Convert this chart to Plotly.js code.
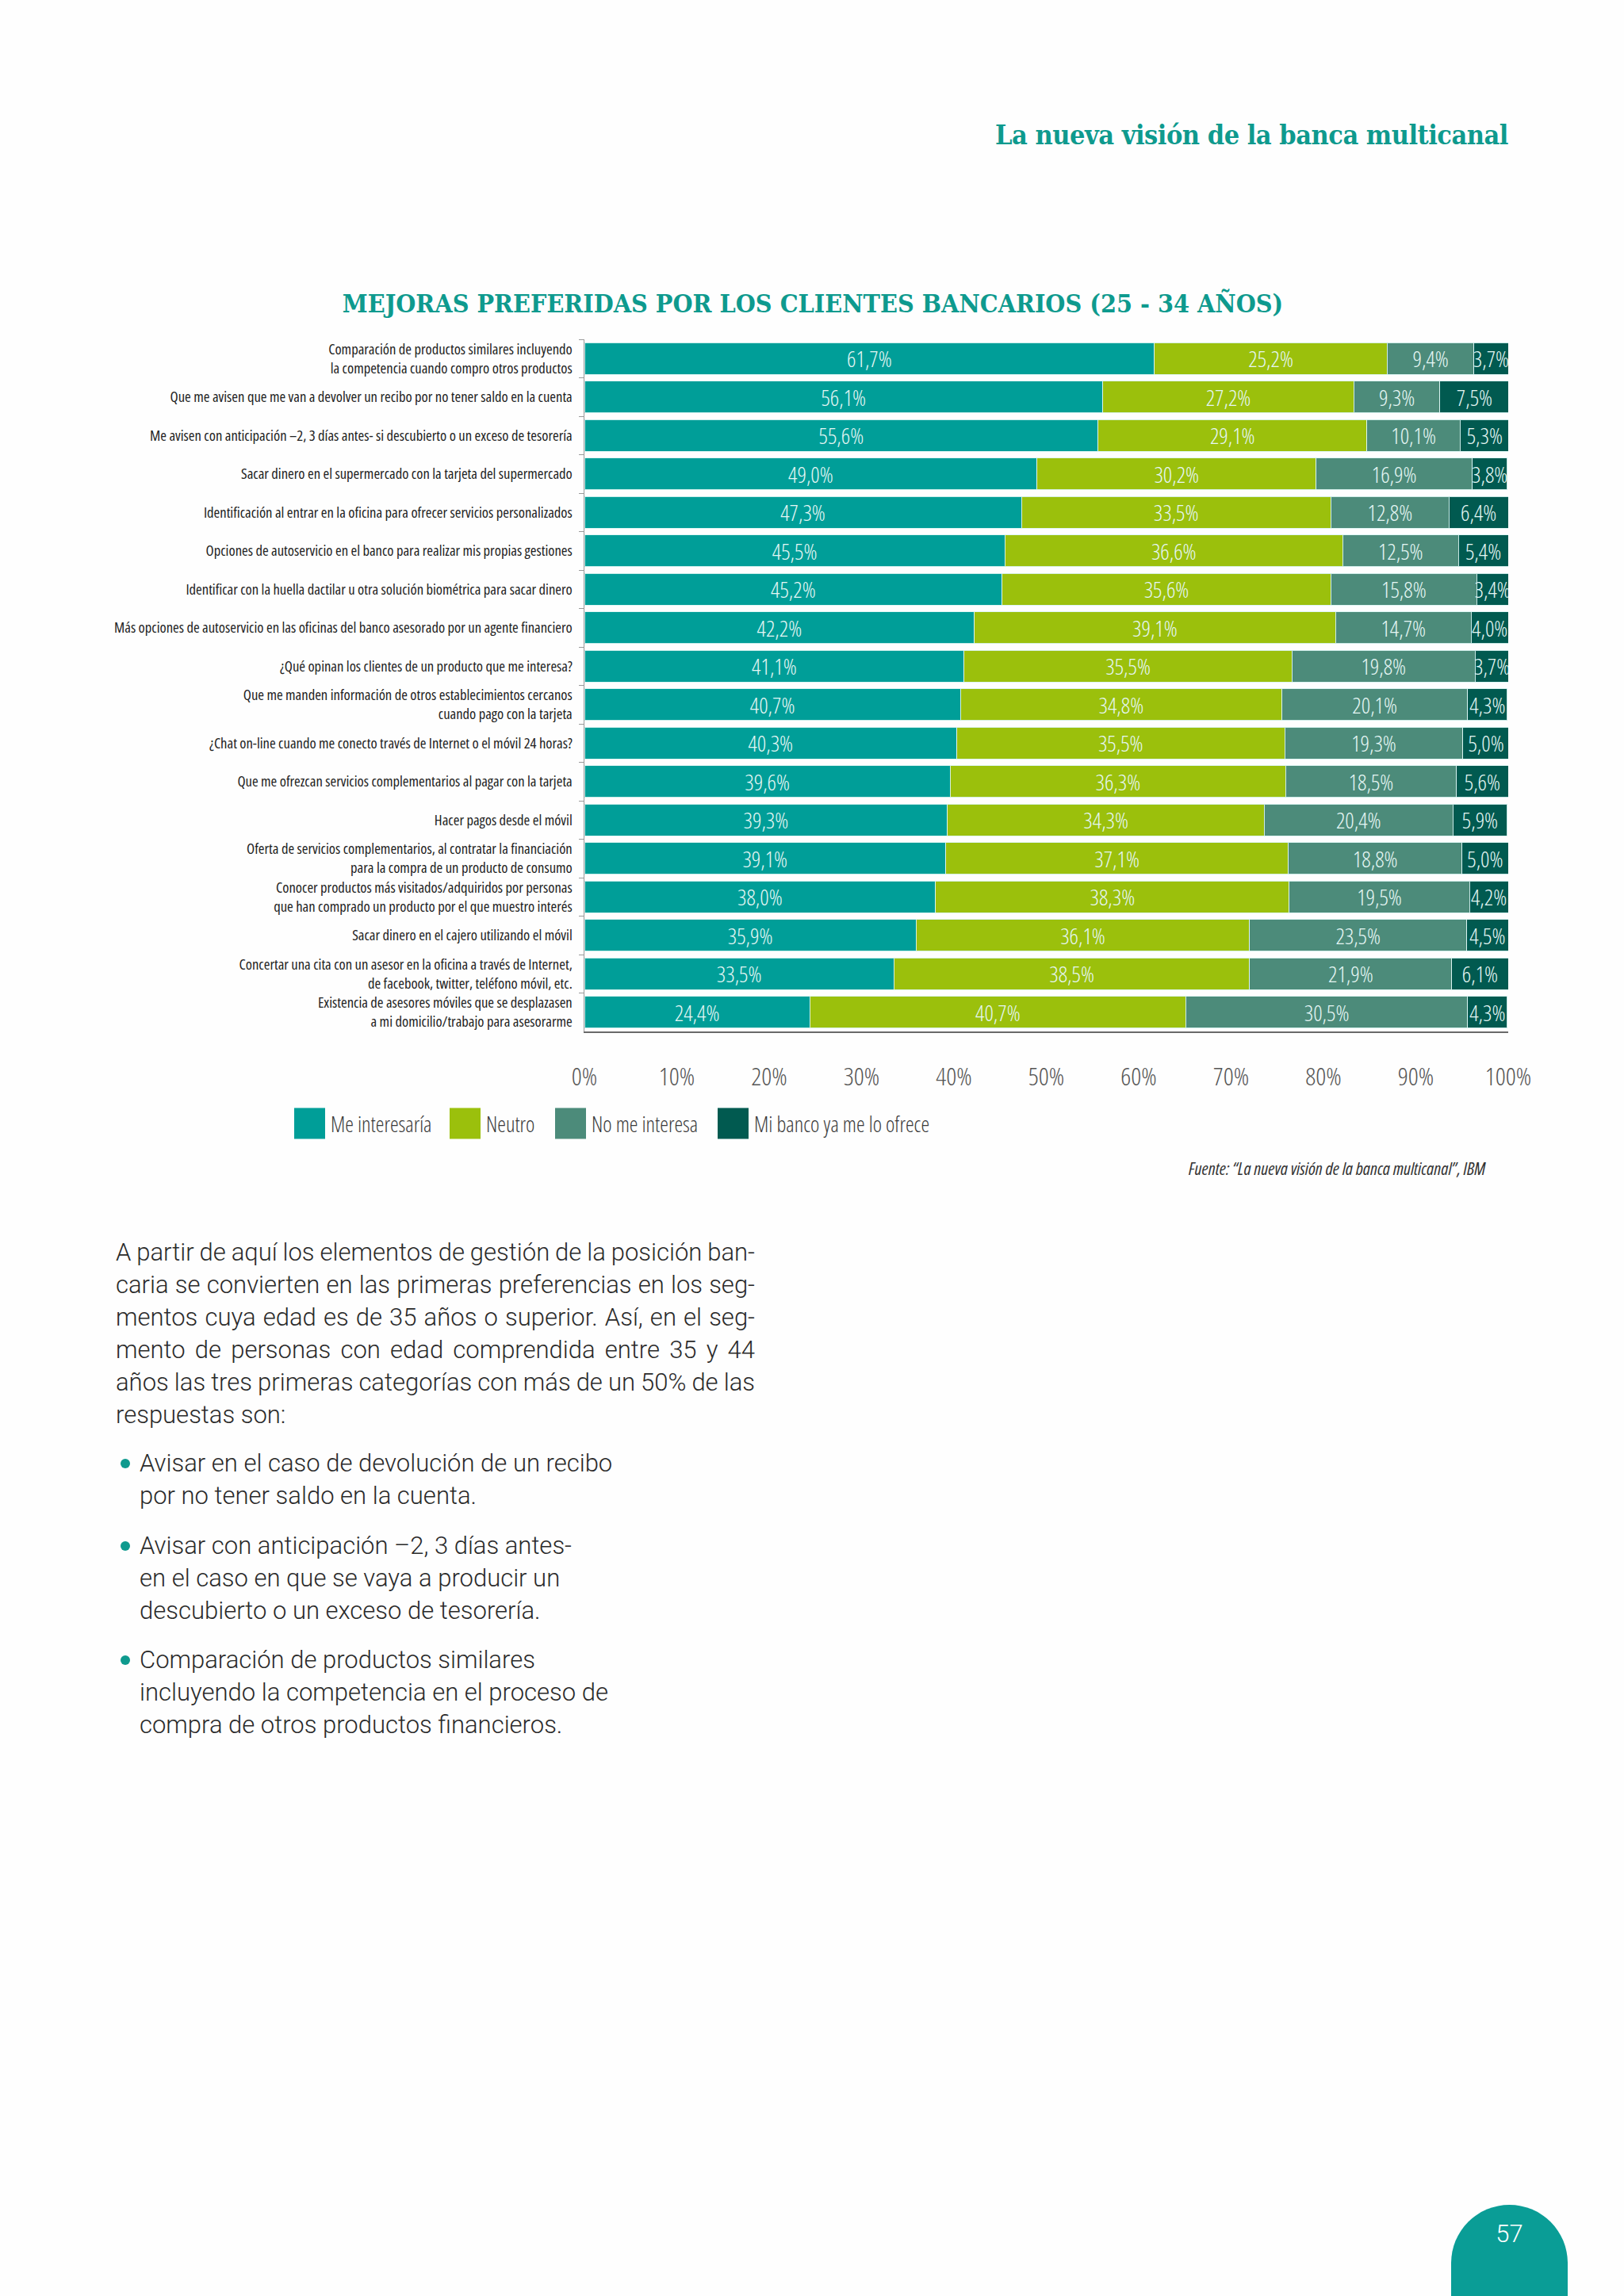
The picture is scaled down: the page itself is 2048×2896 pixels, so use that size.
<!DOCTYPE html>
<html>
<head>
<meta charset="utf-8">
<script src="https://cdn.plot.ly/plotly-3.0.1.min.js"></script>
<style>
  html, body { margin: 0; padding: 0; background: #ffffff; }
  #page { position: relative; width: 2048px; height: 2896px; overflow: hidden; background: #fefefe; }
  #chart { position: absolute; left: 0; top: 0; width: 2048px; height: 1520px; }
  svg text { font-stretch: 75%; }
  #header { position: absolute; right: 146px; top: 150px; font-family: 'DejaVu Serif Condensed', 'DejaVu Serif', serif; font-weight: bold; font-size: 34px; color: #0e9a8e; white-space: nowrap; letter-spacing: -0.5px; }
  .txt { position: absolute; font-family: Roboto, 'Liberation Sans', sans-serif; font-weight: 300; font-size: 31px; color: #2a2a2a; line-height: 41px; }
  #para { left: 146px; top: 1559px; width: 806px; word-spacing: -4px; }
  #para div { text-align: justify; text-align-last: justify; white-space: nowrap; }
  #para div.last { text-align-last: left; word-spacing: 0; }
  .bul { position: absolute; left: 176px; }
  .dot { position: absolute; left: -24px; top: 15px; width: 12px; height: 12px; border-radius: 50%; background: #0e9a8e; }
  #tab { position: absolute; left: 1830px; top: 2781px; width: 147px; height: 130px; background: #0a9d96; border-radius: 74px 74px 0 0; }
  #tab span { position: absolute; left: 0; width: 147px; top: 18px; text-align: center; font-family: Roboto, 'Liberation Sans', sans-serif; font-weight: 300; font-size: 31px; color: #ffffff; }
</style>
</head>
<body>
<div id="page">
  <div id="header">La nueva visión de la banca multicanal</div>
  <div id="chart"></div>
  <div id="para" class="txt">
    <div>A partir de aquí los elementos de gestión de la posición ban-</div>
    <div>caria se convierten en las primeras preferencias en los seg-</div>
    <div>mentos cuya edad es de 35 años o superior. Así, en el seg-</div>
    <div>mento de personas con edad comprendida entre 35 y 44</div>
    <div>años las tres primeras categorías con más de un 50% de las</div>
    <div class="last">respuestas son:</div>
  </div>
  <div class="txt bul" style="top:1825px;"><span class="dot"></span>Avisar en el caso de devolución de un recibo<br>por no tener saldo en la cuenta.</div>
  <div class="txt bul" style="top:1929px;"><span class="dot"></span>Avisar con anticipación –2, 3 días antes-<br>en el caso en que se vaya a producir un<br>descubierto o un exceso de tesorería.</div>
  <div class="txt bul" style="top:2073px;"><span class="dot"></span>Comparación de productos similares<br>incluyendo la competencia en el proceso de<br>compra de otros productos financieros.</div>
  <div id="tab"><span>57</span></div>
</div>
<script>
// ---------- DATA ----------
const categories = [
  "Comparación de productos similares incluyendo<br>la competencia cuando compro otros productos",
  "Que me avisen que me van a devolver un recibo por no tener saldo en la cuenta",
  "Me avisen con anticipación –2, 3 días antes- si descubierto o un exceso de tesorería",
  "Sacar dinero en el supermercado con la tarjeta del supermercado",
  "Identificación al entrar en la oficina para ofrecer servicios personalizados",
  "Opciones de autoservicio en el banco para realizar mis propias gestiones",
  "Identificar con la huella dactilar u otra solución biométrica para sacar dinero",
  "Más opciones de autoservicio en las oficinas del banco asesorado por un agente financiero",
  "¿Qué opinan los clientes de un producto que me interesa?",
  "Que me manden información de otros establecimientos cercanos<br>cuando pago con la tarjeta",
  "¿Chat on-line cuando me conecto través de Internet o el móvil 24 horas?",
  "Que me ofrezcan servicios complementarios al pagar con la tarjeta",
  "Hacer pagos desde el móvil",
  "Oferta de servicios complementarios, al contratar la financiación<br>para la compra de un producto de consumo",
  "Conocer productos más visitados/adquiridos por personas<br>que han comprado un producto por el que muestro interés",
  "Sacar dinero en el cajero utilizando el móvil",
  "Concertar una cita con un asesor en la oficina a través de Internet,<br>de facebook, twitter, teléfono móvil, etc.",
  "Existencia de asesores móviles que se desplazasen<br>a mi domicilio/trabajo para asesorarme"
];
const meInteresaria = [61.7, 56.1, 55.6, 49.0, 47.3, 45.5, 45.2, 42.2, 41.1, 40.7, 40.3, 39.6, 39.3, 39.1, 38.0, 35.9, 33.5, 24.4];
const neutro        = [25.2, 27.2, 29.1, 30.2, 33.5, 36.6, 35.6, 39.1, 35.5, 34.8, 35.5, 36.3, 34.3, 37.1, 38.3, 36.1, 38.5, 40.7];
const noMeInteresa  = [9.4, 9.3, 10.1, 16.9, 12.8, 12.5, 15.8, 14.7, 19.8, 20.1, 19.3, 18.5, 20.4, 18.8, 19.5, 23.5, 21.9, 30.5];
const miBancoYa     = [3.7, 7.5, 5.3, 3.8, 6.4, 5.4, 3.4, 4.0, 3.7, 4.3, 5.0, 5.6, 5.9, 5.0, 4.2, 4.5, 6.1, 4.3];
const seriesNames = ["Me interesaría", "Neutro", "No me interesa", "Mi banco ya me lo ofrece"];
const xTickVals = [0, 10, 20, 30, 40, 50, 60, 70, 80, 90, 100];
const xTickText = ["0%", "10%", "20%", "30%", "40%", "50%", "60%", "70%", "80%", "90%", "100%"];
const chartTitle = "MEJORAS PREFERIDAS POR LOS CLIENTES BANCARIOS (25 - 34 AÑOS)";
const sourceText = "Fuente: “La nueva visión de la banca multicanal”, IBM";

// ---------- STYLE ----------
const colors = ["#009e98", "#9bc00c", "#4c8b7a", "#015a50"];
const W = 2048, H = 1520;
const M = { l: 737, r: 146, t: 428, b: 219 };
const plotW = W - M.l - M.r, plotH = H - M.t - M.b;
const px = x => (x - M.l) / plotW;
const py = y => 1 - (y - M.t) / plotH;
const cond = "'Open Sans', 'Liberation Sans', Arial, sans-serif";

const seriesValues = [meInteresaria, neutro, noMeInteresa, miBancoYa];
const traces = seriesValues.map((vals, i) => ({
  type: "bar",
  orientation: "h",
  name: seriesNames[i],
  y: categories,
  x: vals,
  marker: { color: colors[i], line: { color: "rgba(220,245,243,0.9)", width: 1 } },
  texttemplate: "%{x:.1f}%",
  textposition: "inside",
  insidetextanchor: "middle",
  textangle: 0,
  constraintext: "none",
  textfont: { family: cond, size: 28, weight: 300, color: "#e6f7f5" },
  hoverinfo: "skip",
  showlegend: false
}));

// custom legend (large squares)
const legendX = [371, 567, 700, 905];
const legendY = 1417, sq = 39;
const shapes = legendX.map((x, i) => ({
  type: "rect", xref: "paper", yref: "paper",
  x0: px(x), x1: px(x + sq), y0: py(legendY + sq / 2), y1: py(legendY - sq / 2),
  fillcolor: colors[i], line: { width: 0 }
}));
const annotations = legendX.map((x, i) => ({
  xref: "paper", yref: "paper", x: px(x + sq + 5), y: py(legendY),
  xanchor: "left", yanchor: "middle", showarrow: false,
  text: seriesNames[i], font: { family: cond, size: 27, weight: 300, color: "#3a3a3a" }
}));
annotations.push({
  xref: "paper", yref: "paper", x: px(1876), y: py(1473),
  xanchor: "right", yanchor: "middle", showarrow: false,
  text: "<i>" + sourceText + "</i>", font: { family: cond, size: 22, color: "#333333" }
});

const layout = {
  width: W, height: H,
  margin: M,
  paper_bgcolor: "rgba(0,0,0,0)",
  plot_bgcolor: "rgba(0,0,0,0)",
  barmode: "stack",
  bargap: 0.17,
  separators: ",.",
  title: {
    text: chartTitle,
    xref: "container", yref: "container",
    x: 1025 / W, y: 1 - 383 / H, xanchor: "center", yanchor: "middle",
    font: { family: "'DejaVu Serif Condensed', 'DejaVu Serif', serif", weight: "bold", size: 32, color: "#0e9a8e" }
  },
  xaxis: {
    range: [0, 100],
    tickvals: xTickVals, ticktext: xTickText,
    showgrid: false, zeroline: false,
    showline: true, linecolor: "#6a6a6a", linewidth: 2,
    ticks: "", ticklabelstandoff: 28,
    tickfont: { family: cond, size: 32, weight: 300, color: "#555555" },
    fixedrange: true
  },
  yaxis: {
    type: "category",
    autorange: "reversed",
    showgrid: false, zeroline: false,
    showline: true, linecolor: "#9a9a9a", linewidth: 1.5,
    ticks: "outside", tickson: "boundaries", ticklen: 6, tickcolor: "#9a9a9a",
    ticklabelstandoff: 10,
    tickfont: { family: cond, size: 18.6, color: "#222222" },
    fixedrange: true
  },
  shapes: shapes,
  annotations: annotations
};

Plotly.newPlot("chart", traces, layout, { displayModeBar: false, staticPlot: true });
</script>
</body>
</html>
